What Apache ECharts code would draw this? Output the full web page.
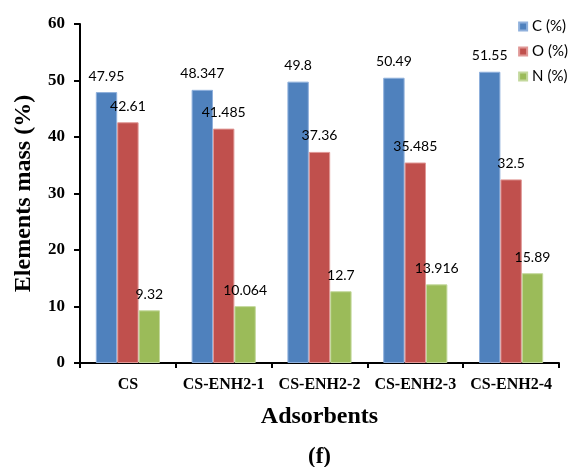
<!DOCTYPE html>
<html><head><meta charset="utf-8">
<script src="https://cdn.jsdelivr.net/npm/echarts@6/dist/echarts.min.js"></script>
<style>html,body{margin:0;padding:0;background:#fff}#c{width:573px;height:467px}</style>
</head><body><div id="c"></div>
<script>
var categories = ['CS', 'CS-ENH2-1', 'CS-ENH2-2', 'CS-ENH2-3', 'CS-ENH2-4'];
var seriesNames = ['C (%)', 'O (%)', 'N (%)'];
var cValues = [47.95, 48.347, 49.8, 50.49, 51.55];
var oValues = [42.61, 41.485, 37.36, 35.485, 32.5];
var nValues = [9.32, 10.064, 12.7, 13.916, 15.89];
var colors = ['#4F81BD', '#C0504D', '#9BBB59'];
var borders = ['#8FB0DC', '#E09896', '#C3D89C'];

var serif = '"Liberation Serif","Times New Roman",serif';
var sans = 'Lato,"Noto Sans",sans-serif';
var chart = echarts.init(document.getElementById('c'), null, {renderer: 'canvas'});
function mk(i, data) {
  return {
    name: seriesNames[i], type: 'bar', data: data, barGap: '0%', barCategoryGap: '33%',
    itemStyle: {color: colors[i], borderColor: borders[i], borderWidth: 1},
    label: {show: true, position: 'top', distance: 9, color: '#000', fontFamily: sans, fontSize: 14},
    emphasis: {disabled: true}
  };
}
chart.setOption({
  animation: false,
  grid: {left: 80, right: 14, top: 24, bottom: 104, containLabel: false},
  legend: {
    orient: 'vertical', right: 0, top: 14, itemWidth: 8, itemHeight: 8, itemGap: 10,
    icon: 'rect', textStyle: {fontFamily: sans, fontSize: 15, color: '#000'},
    data: seriesNames
  },
  xAxis: {
    type: 'category', data: categories,
    name: 'Adsorbents', nameLocation: 'middle', nameGap: 42,
    nameTextStyle: {fontFamily: serif, fontWeight: 'bold', fontSize: 24, color: '#000'},
    axisLine: {lineStyle: {color: '#000', width: 2}},
    axisTick: {show: true, length: 5, lineStyle: {color: '#000', width: 2}},
    axisLabel: {fontFamily: serif, fontWeight: 'bold', fontSize: 16, color: '#000', margin: 14, interval: 0}
  },
  yAxis: {
    type: 'value', min: 0, max: 60, interval: 10,
    name: 'Elements mass (%)', nameLocation: 'middle', nameGap: 44,
    nameTextStyle: {fontFamily: serif, fontWeight: 'bold', fontSize: 24, color: '#000'},
    axisLine: {show: true, lineStyle: {color: '#000', width: 2}},
    axisTick: {show: true, length: 6, lineStyle: {color: '#000', width: 2}},
    splitLine: {show: false},
    axisLabel: {fontFamily: serif, fontWeight: 'bold', fontSize: 17, color: '#000', margin: 15}
  },
  graphic: [{
    type: 'text', left: 308, top: 446,
    style: {text: '(f)', fontFamily: serif, fontWeight: 'bold', fontSize: 23, fill: '#000'}
  }],
  series: [mk(0, cValues), mk(1, oValues), mk(2, nValues)]
});
</script></body></html>
